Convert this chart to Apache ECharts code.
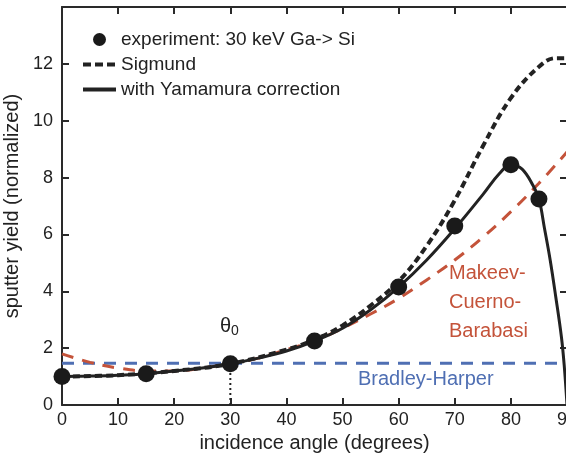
<!DOCTYPE html>
<html>
<head>
<meta charset="utf-8">
<script src="https://cdn.jsdelivr.net/npm/echarts@6/dist/echarts.min.js"></script>
<style>
html, body { margin: 0; padding: 0; background: #fff; }
#chart { width: 566px; height: 456px; }
</style>
</head>
<body>
<div id="chart"></div>
<script>
// measured points
var expAngles = [0, 15, 30, 45, 60, 70, 80, 85];
var expYield = [1.0, 1.1, 1.45, 2.25, 4.15, 6.3, 8.45, 7.25];

var sigAngles = [0, 10, 20, 30, 40, 45, 50, 55, 60, 65, 70, 75, 80, 85, 88, 90];
var sigYield = [1.0, 1.05, 1.2, 1.45, 1.95, 2.3, 2.8, 3.5, 4.35, 5.6, 7.2, 9.1, 10.8, 11.9, 12.2, 12.2];

var yamAngles = [0, 5, 10, 15, 20, 25, 30, 35, 40, 45, 50, 55, 60, 65, 70, 75, 78, 80, 82, 84, 85, 86, 87, 88, 89, 89.5, 90];
var yamYield = [1.0, 1.02, 1.05, 1.1, 1.2, 1.3, 1.45, 1.65, 1.9, 2.25, 2.7, 3.35, 4.15, 5.1, 6.2, 7.4, 8.15, 8.45, 8.3, 7.7, 7.25, 6.2, 5.1, 3.8, 2.4, 1.4, 0];

var mcbAngles = [0, 5, 10, 15, 20, 25, 30, 35, 40, 45, 50, 55, 60, 65, 70, 75, 80, 85, 90];
var mcbYield = [1.8, 1.5, 1.3, 1.2, 1.2, 1.3, 1.45, 1.65, 1.95, 2.25, 2.7, 3.2, 3.75, 4.4, 5.1, 5.9, 6.8, 7.8, 8.9];

var bhAngles = [0, 90];
var bhYield = [1.47, 1.47];

var theta0 = 30;
var theta0Yield = 1.45;

function pairs(xs, ys) {
    return xs.map(function(x, i){ return [x, ys[i]]; });
}

var font = 'Liberation Sans, Arial, sans-serif';
var axisCol = '#2a2a2a';
var red = '#c4533a';
var blue = '#4f6fb3';
var hideMark = { color: 'transparent', borderWidth: 0, opacity: 0 };

var frameLine = { show: true, onZero: false, lineStyle: { color: axisCol, width: 2 } };
var frameTick = { show: true, inside: true, length: 7, lineStyle: { color: axisCol, width: 2 } };

var myChart = echarts.init(document.getElementById('chart'));
var option = {
    backgroundColor: '#fff',
    animation: false,
    grid: { left: 62, right: -1, top: 7, bottom: 51, outerBoundsMode: 'none', containLabel: false },
    legend: {
        orient: 'vertical',
        left: 76,
        top: 25,
        itemWidth: 33,
        itemHeight: 13,
        itemGap: 6,
        textStyle: { fontFamily: font, fontSize: 19, color: '#222' },
        data: [
            { name: 'experiment: 30 keV Ga-> Si' },
            { name: 'Sigmund', itemStyle: hideMark, lineStyle: { color: '#222', width: 4, type: [8, 4] } },
            { name: 'with Yamamura correction', itemStyle: hideMark, lineStyle: { color: '#222', width: 4 } }
        ]
    },
    xAxis: [{
        type: 'value', min: 0, max: 90, interval: 10,
        name: 'incidence angle (degrees)',
        nameLocation: 'middle', nameGap: 24,
        nameTextStyle: { fontFamily: font, fontSize: 20, color: '#222' },
        axisLine: frameLine,
        axisTick: frameTick,
        axisLabel: { fontFamily: font, fontSize: 18, color: '#222', margin: 6 },
        splitLine: { show: false }
    }, {
        type: 'value', min: 0, max: 90, interval: 10, position: 'top',
        axisLine: frameLine,
        axisTick: frameTick,
        axisLabel: { show: false },
        splitLine: { show: false }
    }],
    yAxis: [{
        type: 'value', min: 0, max: 14, interval: 2,
        name: 'sputter yield (normalized)',
        nameLocation: 'middle', nameGap: 34,
        nameTextStyle: { fontFamily: font, fontSize: 20, color: '#222' },
        axisLine: frameLine,
        axisTick: frameTick,
        axisLabel: {
            fontFamily: font, fontSize: 18, color: '#222', margin: 9,
            formatter: function(v){ return v === 14 ? '' : v; }
        },
        splitLine: { show: false }
    }, {
        type: 'value', min: 0, max: 14, interval: 2, position: 'right',
        axisLine: frameLine,
        axisTick: frameTick,
        axisLabel: { show: false },
        splitLine: { show: false }
    }],
    series: [
        {
            name: 'Bradley-Harper', type: 'line', symbol: 'none',
            data: pairs(bhAngles, bhYield),
            lineStyle: { color: blue, width: 3, type: [12, 9] },
            z: 2
        },
        {
            name: 'Makeev-Cuerno-Barabasi', type: 'line', symbol: 'none', smooth: 0.4,
            data: pairs(mcbAngles, mcbYield),
            lineStyle: { color: red, width: 3, type: [12, 9] },
            z: 3
        },
        {
            name: 'Sigmund', type: 'line', symbol: 'none', smooth: 0.4,
            itemStyle: { color: '#222' },
            data: pairs(sigAngles, sigYield),
            lineStyle: { color: '#222', width: 4, type: [7, 4] },
            z: 4
        },
        {
            name: 'with Yamamura correction', type: 'line', symbol: 'none', smooth: 0.4,
            itemStyle: { color: '#222' },
            data: pairs(yamAngles, yamYield),
            lineStyle: { color: '#222', width: 3 },
            z: 5
        },
        {
            name: 'theta0', type: 'line', symbol: 'none',
            data: [[theta0, 0], [theta0, theta0Yield]],
            lineStyle: { color: '#222', width: 2, type: [2, 3] },
            z: 5
        },
        {
            name: 'experiment: 30 keV Ga-> Si', type: 'scatter', symbolSize: 17,
            data: pairs(expAngles, expYield),
            itemStyle: { color: '#1a1a1a', opacity: 1 },
            z: 6
        }
    ],
    graphic: [
        {
            type: 'text', left: 220, top: 316,
            style: {
                text: '{t|θ}{s|0}',
                rich: {
                    t: { fontFamily: font, fontSize: 20, fill: '#222' },
                    s: { fontFamily: font, fontSize: 14, fill: '#222', padding: [10, 0, 0, 0] }
                }
            }
        },
        {
            type: 'text', left: 449, top: 259,
            style: {
                text: 'Makeev-\nCuerno-\nBarabasi',
                fontFamily: font, fontSize: 20, lineHeight: 29, fill: red
            }
        },
        {
            type: 'text', left: 358, top: 369,
            style: {
                text: 'Bradley-Harper',
                fontFamily: font, fontSize: 20, fill: blue
            }
        }
    ]
};
myChart.setOption(option);
</script>
</body>
</html>
